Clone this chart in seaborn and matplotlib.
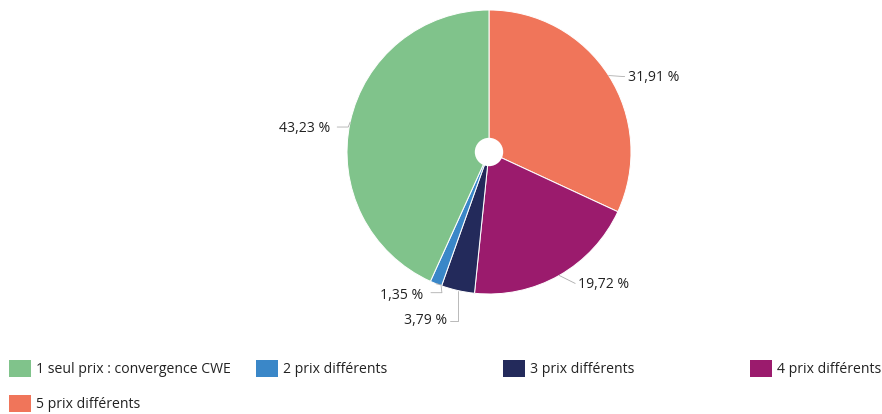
import numpy as np
import matplotlib
matplotlib.use("Agg")
import matplotlib.pyplot as plt
import seaborn as sns
from matplotlib.patches import Patch, Circle

sns.set_theme(style="white")
plt.rcParams['font.family'] = ['Open Sans', 'DejaVu Sans']

categories = ["5 prix différents", "4 prix différents", "3 prix différents",
              "2 prix différents", "1 seul prix : convergence CWE"]
values = [31.91, 19.72, 3.79, 1.35, 43.23]
labels = ["31,91 %", "19,72 %", "3,79 %", "1,35 %", "43,23 %"]
colors = ["#f0755a", "#9b1b6d", "#232a5b", "#3a87c8", "#80c38b"]
legend_order = ["1 seul prix : convergence CWE", "2 prix différents",
                "3 prix différents", "4 prix différents", "5 prix différents"]

W, H = 882, 414
fig = plt.figure(figsize=(W / 72, H / 72), dpi=72)
cx, cy, r = 489, 152, 142
ax = fig.add_axes([(cx - r) / W, (H - cy - r) / H, 2 * r / W, 2 * r / H])
wedges, _ = ax.pie(values, colors=colors, startangle=90, counterclock=False,
                   radius=1.0, wedgeprops=dict(edgecolor="white", linewidth=1.0))
ax.add_patch(Circle((0, 0), 0.1, facecolor="white", edgecolor="none", zorder=5))
ax.set_xlim(-1, 1)
ax.set_ylim(-1, 1)
ax.set_aspect("equal")
ax.axis("off")

FS = 14
# label placement (offsets in points from the wedge edge midpoint)
lab_style = [
    dict(off=(19, -2), ha="left", path=[(16, -1)]),
    dict(off=(19, -9), ha="left", path=[(16, -8)]),
    dict(off=(-11, -30), ha="right", path=[(0, -30), (-8, -30)]),
    dict(off=(-13, -12), ha="right", path=[(5, -1), (6, -9), (-5, -9)]),
    dict(off=(-20, -6), ha="right", path=[(-2, -5), (-13, -5)]),
]
cum = 0
total = sum(values)
for v, lab, st in zip(values, labels, lab_style):
    mid = 90 - (cum + v / 2) / total * 360
    cum += v
    x, y = np.cos(np.radians(mid)), np.sin(np.radians(mid))
    ax.annotate(lab, (x, y), xytext=st["off"], textcoords="offset points",
                ha=st["ha"], va="center", fontsize=FS, color="#222222",
                annotation_clip=False)
    pts = [(0, 0)] + st["path"]
    px = np.array(pts, dtype=float)
    disp0 = ax.transData.transform((x, y))
    disp = disp0 + px * fig.dpi / 72
    dat = ax.transData.inverted().transform(disp)
    ax.plot(dat[:, 0], dat[:, 1], color="#aaaaaa", lw=0.8, clip_on=False)

col_map = dict(zip(categories, colors))
columns = [[legend_order[0], legend_order[4]], [legend_order[1]],
           [legend_order[2]], [legend_order[3]]]
for i, col in enumerate(columns):
    handles = [Patch(facecolor=col_map[c], edgecolor="none", label=c) for c in col]
    leg = fig.legend(handles=handles, loc="upper left",
                     bbox_to_anchor=((11 + 247 * i - 2) / W, 1 - 360 / H),
                     frameon=False, fontsize=FS, handlelength=1.55,
                     handleheight=1.45, handletextpad=0.35, labelspacing=1.3,
                     borderpad=0, borderaxespad=0)
    for t in leg.get_texts():
        t.set_color("#222222")

fig.savefig("out.png", dpi=72)
